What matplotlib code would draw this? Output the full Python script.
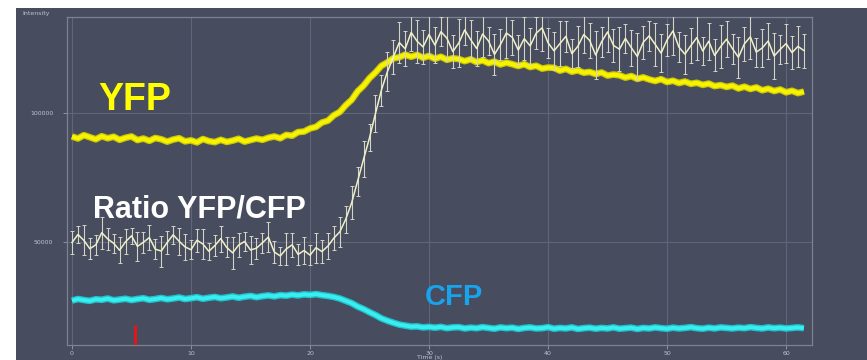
import numpy as np
import matplotlib
matplotlib.use("Agg")
import matplotlib.pyplot as plt
from matplotlib.patches import Rectangle

# Intensity traces (thousands of counts), sampled every 0.5 s from t = 0
dt = 0.5
yfp_k = [
    90.9, 90.1, 91.4, 90.6, 89.8, 91.0, 90.2, 90.8, 89.6, 90.4,
    90.9, 89.5, 90.1, 89.2, 90.3, 89.8, 88.9, 89.7, 90.2, 89.0,
    89.4, 88.6, 89.9, 89.1, 88.7, 89.6, 88.8, 89.3, 90.0, 88.9,
    89.5, 90.1, 89.6, 90.4, 90.9, 90.2, 91.5, 91.2, 92.6, 92.8,
    94.0,
    94.6, 96.3, 97.0, 99.1, 100.4, 103.0, 105.1, 108.4, 110.6, 113.5,
    115.7, 118.3, 119.6, 121.2, 121.6, 122.6, 121.8, 122.5, 121.4, 122.1,
    121.0, 121.8, 120.6, 121.2, 120.9, 120.1, 120.8, 119.7, 120.4, 119.3,
    119.9, 118.8, 119.5, 118.9, 118.2, 118.9, 117.8, 118.3, 117.2, 117.6,
    117.5, 116.4, 117.1, 116.0, 116.5, 115.6, 115.9, 115.1, 115.7, 114.5,
    114.9, 114.6, 113.7, 114.3, 113.2, 113.8, 113.0, 112.4, 113.1, 112.0,
    112.5, 111.6, 112.2, 111.3, 111.7, 110.9, 111.4, 110.4, 110.8, 110.1,
    110.6, 109.5, 110.2, 109.3, 109.9, 108.8, 109.4, 108.5, 109.1, 108.0,
    108.6, 107.7, 108.3,
]
cfp_k = [
    27.3, 27.9, 27.5, 27.2, 27.8, 27.6, 28.1, 27.4, 27.7, 28.0,
    27.5, 27.9, 28.2, 27.6, 27.9, 28.3, 27.8, 28.1, 28.5, 27.9,
    28.2, 28.6, 28.0, 28.4, 28.7, 28.2, 28.5, 28.9, 28.4, 28.8,
    29.1, 28.6, 29.0, 29.3, 28.9, 29.4, 29.2, 29.6, 29.3, 29.7,
    29.5, 29.8, 29.4,
    29.1, 28.7, 28.1, 27.2, 26.3, 25.0, 24.0, 22.8, 21.7, 20.4,
    19.5, 18.7, 18.0, 17.6, 17.2, 17.3, 16.9, 17.1,
    16.8, 17.1, 16.6, 16.9, 17.0, 16.5, 16.8, 16.6, 17.0, 16.7,
    16.4, 16.9, 16.6, 16.8, 16.3, 16.7, 16.9, 16.5, 16.6, 17.0,
    16.4, 16.7, 16.5, 16.9, 16.3, 16.6, 16.8, 16.4, 16.7, 16.5,
    16.9, 16.4, 16.6, 16.8, 16.3, 16.7, 16.5, 16.9, 16.6, 16.4,
    16.8, 16.5, 16.7, 17.0, 16.6, 16.4, 16.8, 16.5, 16.9, 16.7,
    16.5, 16.8, 16.6, 17.0, 16.7, 16.5, 16.9, 16.6, 16.8, 16.5,
    16.7, 16.9, 16.6,
]
ratio_k = [
    49.8, 52.9, 50.6, 47.4, 48.9, 53.6, 51.2, 49.5, 46.8, 50.1,
    52.4, 48.3, 49.9, 51.7, 47.2, 46.5, 49.8, 52.8, 50.3, 48.1,
    47.0, 50.7, 49.2, 46.4, 48.6, 51.3, 47.9, 45.8, 48.8, 50.2,
    46.9, 47.6, 49.7, 51.9, 46.1, 44.6, 47.3, 48.9, 45.2, 46.7,
    44.9, 47.8, 46.3,
    48.4, 51.5, 53.9, 58.8, 65.2, 73.6, 82.1, 90.4, 99.8, 108.9,
    116.0, 121.7, 127.3, 124.9, 131.2, 127.8, 125.6, 130.4,
    126.3, 131.5, 129.0, 123.8, 127.1, 132.2, 128.4, 125.0, 130.6, 127.9,
    122.7, 126.5, 131.0, 129.3, 124.4, 128.8, 126.0, 130.9, 133.0, 127.2,
    124.1, 126.9, 129.7, 123.0, 125.8, 130.4, 128.1, 122.5, 127.6, 131.4,
    126.2, 124.7, 128.9, 125.3, 121.9, 127.4, 129.9, 126.6, 123.2, 128.3,
    131.8, 125.5, 122.8, 126.1, 129.2, 124.0, 127.8, 122.3, 125.7, 128.6,
    124.9, 121.6, 126.8, 129.5, 123.6, 125.2, 127.9, 122.1, 124.6, 126.9,
    123.4, 125.8, 124.2,
]
ratio_err_k = [
    4.6, 3.4, 5.8, 4.1, 3.9, 6.2, 4.4, 3.6, 5.1, 4.8,
    3.2, 5.5, 4.0, 4.7, 3.8, 6.0, 4.3, 3.5, 5.2, 4.9,
    3.7, 4.5, 5.9, 3.3, 4.2, 5.0, 3.9, 6.3, 4.6, 3.6,
    5.4, 4.1, 3.8, 5.7, 4.4, 3.5, 6.1, 4.7, 4.0, 5.3,
    3.9, 5.8, 4.5,
    5.0, 4.6, 5.9, 5.2, 6.4, 5.6, 6.9, 5.3, 7.2, 6.0,
    7.6, 6.5, 8.0, 6.8, 7.3, 8.4, 6.6, 7.9,
    7.1, 5.6, 8.6, 6.3, 9.2, 5.9, 7.5, 6.8, 8.9, 5.4,
    7.8, 6.1, 9.5, 6.9, 5.7, 8.3, 7.0, 6.2, 9.0, 5.8,
    7.4, 8.7, 6.0, 5.5, 8.1, 7.2, 6.6, 9.3, 5.9, 7.7,
    6.4, 8.5, 5.6, 7.0, 9.1, 6.3, 5.8, 8.2, 7.3, 6.1,
    9.4, 5.7, 7.6, 6.7, 8.8, 5.5, 7.1, 6.2, 8.4, 6.9,
    5.9, 7.9, 6.5, 8.6, 5.6, 7.3, 6.8, 9.0, 5.8, 7.5,
    6.3, 8.0, 6.6,
]
stimulus_time = 5.3
stimulus_top_k = 17.8
x_ticks = [0, 10, 20, 30, 40, 50, 60]
y_ticks = [50000, 100000]
y_tick_labels = ["50000", "100000"]

t = np.arange(len(yfp_k)) * dt
yfp = np.array(yfp_k) * 1000
cfp = np.array(cfp_k) * 1000
ratio = np.array(ratio_k) * 1000
ratio_err = np.array(ratio_err_k) * 1000

W, H = 867, 360
bg = "#474c5e"
fig = plt.figure(figsize=(W / 100, H / 100), dpi=100, facecolor="white")
panel = Rectangle((16 / W, 0), 1, 1 - 8 / H, transform=fig.transFigure,
                  facecolor=bg, edgecolor="none", zorder=-10)
fig.add_artist(panel)

ax = fig.add_axes([67 / W, 1 - 345 / H, (812 - 67) / W, (345 - 17) / H])
ax.set_zorder(1)
ax.set_facecolor(bg)
ax.set_xlim(-0.42, 62.18)
ax.set_ylim(10080, 137200)

for s in ax.spines.values():
    s.set_color("#7d8293")
    s.set_linewidth(0.9)
ax.set_xticks(x_ticks)
ax.set_xticklabels([str(v) for v in x_ticks])
ax.set_yticks(y_ticks)
ax.set_yticklabels(y_tick_labels)
ax.tick_params(axis="both", colors="#8e93a2", labelcolor="#bfc3ce", labelsize=4.5,
               length=3, width=0.7)
ax.tick_params(axis="y", pad=7)
ax.tick_params(axis="x", pad=1)
ax.grid(True, color="#60667a", linewidth=0.8)
ax.set_axisbelow(True)

# YFP and CFP traces: darker rim underneath a bright core
line_kw = dict(solid_joinstyle="round", solid_capstyle="butt", zorder=3)
ax.plot(t, yfp, color="#c9c508", lw=4.8, **line_kw)
ax.plot(t, yfp, color="#f7f300", lw=3.0, **line_kw)
ax.plot(t, cfp, color="#1fc2cc", lw=4.8, **line_kw)
ax.plot(t, cfp, color="#3aeef0", lw=2.8, **line_kw)

# YFP/CFP ratio with error bars
ax.errorbar(t, ratio, yerr=ratio_err, color="#f0f0c8", lw=1.1, ecolor="#d3d3c6",
            elinewidth=0.8, capsize=1.4, capthick=0.7, zorder=4)

# Stimulus marker
ax.vlines(stimulus_time, 10080, stimulus_top_k * 1000, color="#e01818", lw=2.2, zorder=5)

bold = dict(family=["Liberation Sans", "DejaVu Sans"], fontweight="bold")
ax.text(0.0416, 0.716, "YFP", transform=ax.transAxes, color="#ffff00", fontsize=27,
        va="baseline", ha="left", zorder=6, **bold)
ax.text(0.035, 0.390, "Ratio YFP/CFP", transform=ax.transAxes, color="white", fontsize=22,
        va="baseline", ha="left", zorder=6, **bold)
ax.text(0.4805, 0.122, "CFP", transform=ax.transAxes, color="#18a4ec", fontsize=21,
        va="baseline", ha="left", zorder=6, **bold)

fig.text(22 / W, 1 - 14 / H, "Intensity", color="#bfc3ce", fontsize=4.5, va="center", ha="left")
fig.text(430 / W, 1 - 357 / H, "Time (s)", color="#bfc3ce", fontsize=4.5, va="center", ha="center")

fig.savefig("out.png", dpi=100, facecolor="white")
